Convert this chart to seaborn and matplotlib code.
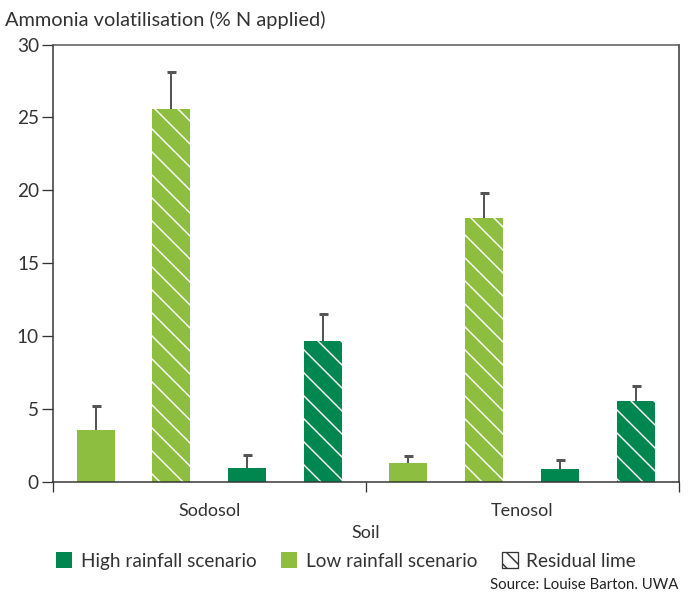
import matplotlib
matplotlib.use("Agg")
import matplotlib.pyplot as plt
from matplotlib.patches import Patch
import seaborn as sns
import pandas as pd
import numpy as np

# values
soils = ["Sodosol", "Tenosol"]
treatments = ["Low", "Low + lime", "High", "High + lime"]
low = [3.6, 1.35]
low_err = [1.6, 0.45]
low_lime = [25.6, 18.1]
low_lime_err = [2.5, 1.7]
high = [1.0, 0.9]
high_err = [0.9, 0.65]
high_lime = [9.7, 5.6]
high_lime_err = [1.8, 1.0]

light = "#8DBE3F"
dark = "#00874F"

df = pd.DataFrame({
    "soil": soils * 4,
    "treatment": np.repeat(treatments, 2),
    "value": low + low_lime + high + high_lime,
    "err": low_err + low_lime_err + high_err + high_lime_err,
})

sns.set_style("white")
plt.rcParams["font.family"] = ["Lato", "DejaVu Sans"]
plt.rcParams["hatch.linewidth"] = 0.75

DPI = 138.4
def px(v):
    return v * 72 / DPI

fig = plt.figure(figsize=(692 / DPI, 595 / DPI), dpi=DPI)
ax = fig.add_axes([53 / 692, 1 - 482.3 / 595, (678.5 - 53) / 692, (482.3 - 44.5) / 595])

pal = {"Low": light, "Low + lime": light, "High": dark, "High + lime": dark}
sns.barplot(data=df, x="soil", y="value", hue="treatment", hue_order=treatments,
            order=soils, palette=pal, width=0.97, gap=0.5, errorbar=None,
            legend=False, ax=ax, saturation=1)

# hatching + error bars (upper only)
for patch, (_, row) in zip(ax.patches, df.iterrows()):
    patch.set_linewidth(0)
    if "lime" in row["treatment"]:
        patch.set_hatch("\\\\")
        patch.set_edgecolor("white")
    cx = patch.get_x() + patch.get_width() / 2
    _, caps, _ = ax.errorbar(cx, row["value"], yerr=[[0], [row["err"]]], fmt="none",
                             ecolor="#555555", elinewidth=px(2), capsize=px(4.5),
                             capthick=px(3), zorder=1)
    caps[0].set_visible(False)
    caps[1].set_color("#222222")

ax.set_ylim(0, 30)
ax.set_xlim(-0.5, 1.5)
ax.set_yticks(range(0, 31, 5))
ax.tick_params(axis="y", left=True, length=px(11), width=px(1.3), color="#333333",
               labelsize=px(19), labelcolor="#333333", pad=px(3))
ax.tick_params(axis="x", bottom=False, labelsize=px(18), labelcolor="#333333", pad=px(14))
ax.set_xticks([-0.5, 0.5, 1.5], minor=True)
ax.tick_params(axis="x", which="minor", bottom=True, length=px(10), width=px(1.3), color="#333333")

for s in ax.spines.values():
    s.set_visible(True)
    s.set_color("#333333")
    s.set_linewidth(px(1.5))
ax.spines["top"].set_color("#555555")

ax.set_ylabel("")
ax.set_xlabel("Soil", fontsize=px(18), color="#333333", labelpad=px(6))
fig.text(5 / 692, 1 - 20 / 595, "Ammonia volatilisation (% N applied)", fontsize=px(20),
         color="#333333", ha="left", va="center")

handles = [
    Patch(facecolor=dark, edgecolor="none", label="High rainfall scenario"),
    Patch(facecolor=light, edgecolor="none", label="Low rainfall scenario"),
    Patch(facecolor="white", edgecolor="#333333", hatch="\\\\\\", linewidth=px(1.3),
          label="Residual lime"),
]
fig.legend(handles=handles, loc="center", bbox_to_anchor=(346 / 692, 1 - 561 / 595), ncol=3,
           frameon=False, fontsize=px(19), handlelength=0.85, handleheight=0.85,
           handletextpad=0.45, columnspacing=1.3, labelcolor="#333333")

fig.text(678 / 692, 1 - 585 / 595, "Source: Louise Barton. UWA", fontsize=px(15),
         color="#222222", ha="right", va="center")

fig.savefig("out.png", dpi=DPI)
